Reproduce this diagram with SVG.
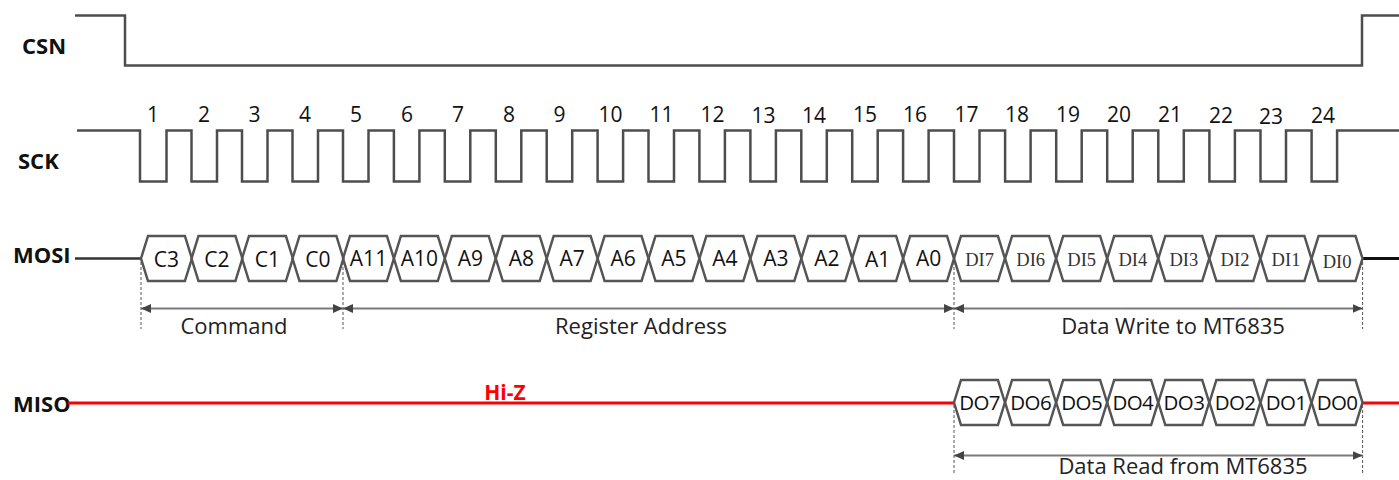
<svg xmlns="http://www.w3.org/2000/svg" xmlns:xlink="http://www.w3.org/1999/xlink" width="1399" height="480" viewBox="0 0 1399 480">
<style>
.wave{fill:none;stroke:#4d4d4d;stroke-width:2.5;stroke-linejoin:miter}
.hexs{fill:none;stroke:#555;stroke-width:2.5;stroke-linejoin:miter}
.name{font-family:"Open Sans","Noto Sans","Liberation Sans",sans-serif;font-weight:bold;font-size:22px;fill:#111}
.num{font-family:"Open Sans","Noto Sans","Liberation Sans",sans-serif;font-size:21px;fill:#111;text-anchor:middle}
.cell{font-family:"Open Sans","Noto Sans","Liberation Sans",sans-serif;font-size:21px;fill:#111;text-anchor:middle}
.do{font-family:"Open Sans","Noto Sans","Liberation Sans",sans-serif;font-size:20.5px;fill:#111;text-anchor:middle;letter-spacing:-0.6px}
.di{font-family:"Liberation Serif","DejaVu Serif",serif;font-size:18.5px;fill:#333;text-anchor:middle}
.lbl{font-family:"Open Sans","Noto Sans","Liberation Sans",sans-serif;font-size:22px;fill:#222;text-anchor:middle}
.dim{stroke:#7a7a7a;stroke-width:2;marker-start:url(#ah);marker-end:url(#ah)}
.dash{stroke:#555;stroke-width:1;stroke-dasharray:3 2}
</style>
<defs>
<marker id="ah" markerUnits="userSpaceOnUse" markerWidth="11" markerHeight="10" refX="10" refY="4.5" orient="auto-start-reverse">
<path d="M0,0 L10,4.5 L0,9 Z" fill="#444"/>
</marker>
<path id="hex" d="M0,0 L7,-22.5 L43.9,-22.5 L50.9,0 L43.9,22.5 L7,22.5 Z"/>
</defs>

<g id="CSN">
<text class="name" x="22" y="54">CSN</text>
<path class="wave" d="M75,15.5 H125 V65.5 H1362 V15.5 H1399"/>
</g>

<g id="SCK">
<text class="name" x="18" y="169">SCK</text>
<path class="wave" d="M77,130.5 H140 V181.5 H166.5 V130.5 H191.5 V181.5 H217 V130.5 H242 V181.5 H267.5 V130.5 H292.5 V181.5 H318 V130.5 H343 V181.5 H368.5 V130.5 H393.9 V181.5 H419.4 V130.5 H444.8 V181.5 H470.3 V130.5 H495.8 V181.5 H521.3 V130.5 H546.7 V181.5 H572.2 V130.5 H597.6 V181.5 H623.1 V130.5 H648.5 V181.5 H674 V130.5 H699.4 V181.5 H724.9 V130.5 H750.4 V181.5 H775.9 V130.5 H801.3 V181.5 H826.8 V130.5 H852.2 V181.5 H877.7 V130.5 H903.1 V181.5 H928.6 V130.5 H954 V181.5 H979.5 V130.5 H1005.1 V181.5 H1030.6 V130.5 H1056.2 V181.5 H1081.7 V130.5 H1107.2 V181.5 H1132.7 V130.5 H1158.3 V181.5 H1183.8 V130.5 H1209.4 V181.5 H1234.9 V130.5 H1260.5 V181.5 H1286 V130.5 H1311.6 V181.5 H1337.1 V130.5 H1399"/>
<text class="num" x="153" y="122">1</text>
<text class="num" x="204" y="122">2</text>
<text class="num" x="254.5" y="122">3</text>
<text class="num" x="305" y="122">4</text>
<text class="num" x="356" y="122">5</text>
<text class="num" x="407" y="122">6</text>
<text class="num" x="458" y="122">7</text>
<text class="num" x="509" y="122">8</text>
<text class="num" x="559.5" y="122">9</text>
<text class="num" x="610.5" y="122">10</text>
<text class="num" x="661.5" y="122">11</text>
<text class="num" x="712.5" y="122">12</text>
<text class="num" x="763.5" y="123">13</text>
<text class="num" x="814" y="123">14</text>
<text class="num" x="865" y="122">15</text>
<text class="num" x="915" y="122">16</text>
<text class="num" x="966.5" y="122">17</text>
<text class="num" x="1017" y="122">18</text>
<text class="num" x="1068" y="122">19</text>
<text class="num" x="1119" y="122">20</text>
<text class="num" x="1170" y="122">21</text>
<text class="num" x="1221" y="123">22</text>
<text class="num" x="1271" y="124">23</text>
<text class="num" x="1323" y="123">24</text>
</g>

<g id="MOSI">
<text class="name" x="13" y="263">MOSI</text>
<line x1="75" y1="258.5" x2="141" y2="258.5" stroke="#333" stroke-width="2.5"/>
<line x1="1362.6" y1="258.5" x2="1399" y2="258.5" stroke="#111" stroke-width="3"/>
<g class="hexs">
<use xlink:href="#hex" x="141" y="258.5"/>
<use xlink:href="#hex" x="191.5" y="258.5"/>
<use xlink:href="#hex" x="242" y="258.5"/>
<use xlink:href="#hex" x="292.5" y="258.5"/>
<use xlink:href="#hex" x="343" y="258.5"/>
<use xlink:href="#hex" x="393.9" y="258.5"/>
<use xlink:href="#hex" x="444.8" y="258.5"/>
<use xlink:href="#hex" x="495.8" y="258.5"/>
<use xlink:href="#hex" x="546.7" y="258.5"/>
<use xlink:href="#hex" x="597.6" y="258.5"/>
<use xlink:href="#hex" x="648.5" y="258.5"/>
<use xlink:href="#hex" x="699.4" y="258.5"/>
<use xlink:href="#hex" x="750.4" y="258.5"/>
<use xlink:href="#hex" x="801.3" y="258.5"/>
<use xlink:href="#hex" x="852.2" y="258.5"/>
<use xlink:href="#hex" x="903.1" y="258.5"/>
<use xlink:href="#hex" x="954" y="258.5"/>
<use xlink:href="#hex" x="1005.1" y="258.5"/>
<use xlink:href="#hex" x="1056.2" y="258.5"/>
<use xlink:href="#hex" x="1107.2" y="258.5"/>
<use xlink:href="#hex" x="1158.3" y="258.5"/>
<use xlink:href="#hex" x="1209.4" y="258.5"/>
<use xlink:href="#hex" x="1260.5" y="258.5"/>
<use xlink:href="#hex" x="1311.6" y="258.5"/>
</g>
<text class="cell" x="166.3" y="266.5">C3</text>
<text class="cell" x="216.8" y="266.5">C2</text>
<text class="cell" x="267.3" y="266.5">C1</text>
<text class="cell" x="317.8" y="266.5">C0</text>
<text class="cell" x="368.5" y="265.5">A11</text>
<text class="cell" x="419.4" y="265.5">A10</text>
<text class="cell" x="470.3" y="265.5">A9</text>
<text class="cell" x="521.3" y="265.5">A8</text>
<text class="cell" x="572.2" y="265.5">A7</text>
<text class="cell" x="623.1" y="265.5">A6</text>
<text class="cell" x="674" y="265.5">A5</text>
<text class="cell" x="724.9" y="265.5">A4</text>
<text class="cell" x="775.9" y="265.5">A3</text>
<text class="cell" x="826.8" y="265.5">A2</text>
<text class="cell" x="877.7" y="267">A1</text>
<text class="cell" x="928.6" y="265.5">A0</text>
<text class="di" x="979.6" y="266">DI7</text>
<text class="di" x="1030.7" y="266">DI6</text>
<text class="di" x="1081.7" y="266">DI5</text>
<text class="di" x="1132.8" y="266">DI4</text>
<text class="di" x="1183.9" y="266">DI3</text>
<text class="di" x="1235" y="266">DI2</text>
<text class="di" x="1286" y="266">DI1</text>
<text class="di" x="1337.1" y="268">DI0</text>
</g>

<g id="MISO">
<text class="name" x="13" y="411.5">MISO</text>
<line x1="68" y1="403" x2="954" y2="403" stroke="#ff0000" stroke-width="3"/>
<line x1="1362.6" y1="403" x2="1399" y2="403" stroke="#ff0000" stroke-width="3"/>
<text x="505" y="400" font-family="Open Sans, Noto Sans, Liberation Sans, sans-serif" font-weight="bold" font-size="21" fill="#ff0000" text-anchor="middle">Hi-Z</text>
<g class="hexs">
<use xlink:href="#hex" x="954" y="402.5"/>
<use xlink:href="#hex" x="1005.1" y="402.5"/>
<use xlink:href="#hex" x="1056.2" y="402.5"/>
<use xlink:href="#hex" x="1107.2" y="402.5"/>
<use xlink:href="#hex" x="1158.3" y="402.5"/>
<use xlink:href="#hex" x="1209.4" y="402.5"/>
<use xlink:href="#hex" x="1260.5" y="402.5"/>
<use xlink:href="#hex" x="1311.6" y="402.5"/>
</g>
<text class="do" x="979.6" y="409.5">DO7</text>
<text class="do" x="1030.7" y="409.5">DO6</text>
<text class="do" x="1081.7" y="409.5">DO5</text>
<text class="do" x="1132.8" y="409.5">DO4</text>
<text class="do" x="1183.9" y="409.5">DO3</text>
<text class="do" x="1235" y="409.5">DO2</text>
<text class="do" x="1286" y="409.5">DO1</text>
<text class="do" x="1337.1" y="409.5">DO0</text>
</g>

<g id="connectors">
<line class="dash" x1="141" y1="262" x2="141" y2="329"/>
<line class="dash" x1="343" y1="262" x2="343" y2="329"/>
<line class="dash" x1="954" y1="262" x2="954" y2="329"/>
<line class="dash" x1="1362.6" y1="262" x2="1362.6" y2="329"/>
<line class="dash" x1="954" y1="405" x2="954" y2="474"/>
<line class="dash" x1="1362.6" y1="405" x2="1362.6" y2="474"/>
<line class="dim" x1="141" y1="308.5" x2="343" y2="308.5"/>
<line class="dim" x1="343" y1="308.5" x2="954" y2="308.5"/>
<line class="dim" x1="954" y1="308.5" x2="1362.6" y2="308.5"/>
<line class="dim" x1="954" y1="455.5" x2="1362.6" y2="455.5"/>
</g>

<g id="labels">
<text class="lbl" x="234" y="334">Command</text>
<text class="lbl" x="641" y="334">Register Address</text>
<text class="lbl" x="1173" y="334">Data Write to MT6835</text>
<text class="lbl" x="1183" y="474">Data Read from MT6835</text>
</g>
</svg>
